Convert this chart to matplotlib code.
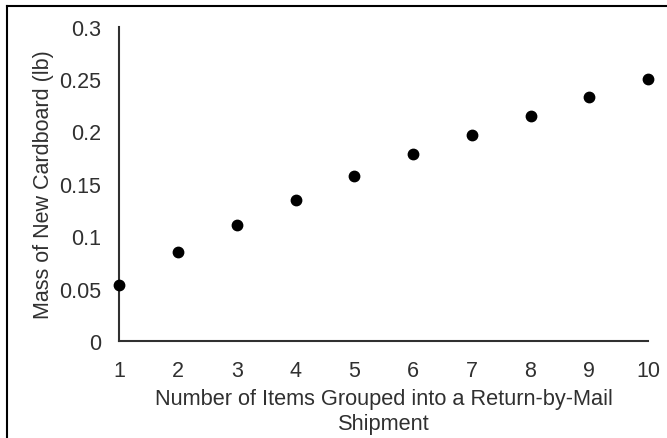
import matplotlib
matplotlib.use("Agg")
import matplotlib.pyplot as plt
from matplotlib.lines import Line2D

plt.rcParams["font.family"] = ["Liberation Sans", "DejaVu Sans"]

# number of items grouped per shipment vs. new cardboard mass (lb)
items = [1, 2, 3, 4, 5, 6, 7, 8, 9, 10]
mass_lb = [0.0534, 0.0851, 0.111, 0.135, 0.157, 0.178, 0.197, 0.215, 0.233, 0.250]
y_ticks = [0, 0.05, 0.1, 0.15, 0.2, 0.25, 0.3]
y_tick_labels = ["0", "0.05", "0.1", "0.15", "0.2", "0.25", "0.3"]

text_col = "#303030"
axis_col = "#303030"

fig = plt.figure(figsize=(6.67, 4.39), dpi=100)
ax = fig.add_axes([0.179, 0.221, 0.7925, 0.716])

ax.scatter(items, mass_lb, s=56, color="black", zorder=3, clip_on=False)

ax.set_xlim(1, 10)
ax.set_ylim(0, 0.3)
ax.set_xticks(items)
ax.set_yticks(y_ticks)
ax.set_yticklabels(y_tick_labels)
ax.tick_params(length=0, labelsize=15.5, colors=text_col)
ax.tick_params(axis="x", pad=14)
ax.tick_params(axis="y", pad=13)

for side in ("top", "right"):
    ax.spines[side].set_visible(False)
for side in ("left", "bottom"):
    ax.spines[side].set_color(axis_col)
    ax.spines[side].set_linewidth(1.5)

ax.set_xlabel("Number of Items Grouped into a Return-by-Mail\nShipment",
              fontsize=15.7, color=text_col, labelpad=5, linespacing=1.2)
ax.set_ylabel("Mass of New Cardboard (lb)", fontsize=15.5, color=text_col,
              labelpad=4)

# chart frame: only the top and left edges show in the crop
fx = 6.5 / 667
fy = 1 - 6.5 / 439
fig.add_artist(Line2D([fx, 1], [fy, fy], transform=fig.transFigure,
                      color="black", linewidth=1.5))
fig.add_artist(Line2D([fx, fx], [0, fy], transform=fig.transFigure,
                      color="black", linewidth=1.5))

fig.savefig("out.png", dpi=100)
